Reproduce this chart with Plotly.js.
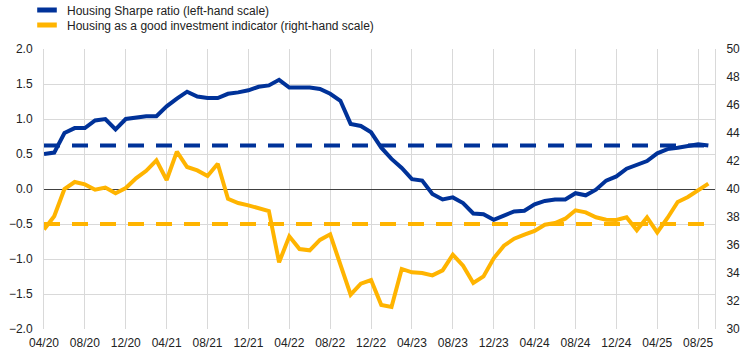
<!DOCTYPE html>
<html>
<head>
<meta charset="utf-8">
<script src="https://cdn.plot.ly/plotly-3.0.1.min.js"></script>
<style>html,body{margin:0;padding:0;background:#fff;}#chart{width:745px;height:357px;}</style>
</head>
<body>
<div id="chart"></div>
<script>
var months = ["04/20","05/20","06/20","07/20","08/20","09/20","10/20","11/20","12/20","01/21","02/21","03/21",
  "04/21","05/21","06/21","07/21","08/21","09/21","10/21","11/21","12/21","01/22","02/22","03/22",
  "04/22","05/22","06/22","07/22","08/22","09/22","10/22","11/22","12/22","01/23","02/23","03/23",
  "04/23","05/23","06/23","07/23","08/23","09/23","10/23","11/23","12/23","01/24","02/24","03/24",
  "04/24","05/24","06/24","07/24","08/24","09/24","10/24","11/24","12/24","01/25","02/25","03/25",
  "04/25","05/25","06/25","07/25","08/25","09/25"];
var tickLabels = ["04/20","08/20","12/20","04/21","08/21","12/21","04/22","08/22","12/22","04/23","08/23","12/23","04/24","08/24","12/24","04/25","08/25"];

var sharpeRatio = [0.50,0.52,0.80,0.87,0.87,0.98,1.00,0.85,1.00,1.02,1.04,1.04,
  1.18,1.29,1.39,1.32,1.30,1.30,1.36,1.38,1.41,1.46,1.48,1.56,
  1.45,1.45,1.45,1.43,1.36,1.26,0.93,0.90,0.81,0.59,0.43,0.30,
  0.14,0.12,-0.07,-0.15,-0.12,-0.20,-0.35,-0.36,-0.44,-0.38,-0.32,-0.31,
  -0.22,-0.17,-0.15,-0.15,-0.06,-0.09,-0.01,0.12,0.18,0.29,0.35,0.40,
  0.51,0.57,0.59,0.62,0.64,0.62];
var investmentIndicator = [37.1,38.05,40.0,40.5,40.33,39.95,40.1,39.7,40.07,40.76,41.3,42.05,
  40.64,42.67,41.57,41.33,40.93,41.8,39.3,39.0,38.83,38.64,38.43,34.76,
  36.62,35.71,35.62,36.36,36.76,34.6,32.45,33.24,33.5,31.71,31.57,34.29,
  34.05,34.0,33.83,34.19,35.31,34.52,33.29,33.76,35.05,35.95,36.45,36.74,
  37.0,37.45,37.57,37.88,38.48,38.33,37.98,37.81,37.79,37.98,37.05,37.98,
  36.9,37.93,39.07,39.43,39.9,40.38];
var sharpeAverage = 0.62;
var indicatorAverage = 37.5;

var names = ["Housing Sharpe ratio (left-hand scale)", "Housing as a good investment indicator (right-hand scale)"];
var BLUE = "#003299", YELLOW = "#ffb400";

var first = months[0], last = months[months.length - 1];
var traces = [
  {x:[first,last], y:[sharpeAverage,sharpeAverage], type:"scatter", mode:"lines", yaxis:"y",
   line:{color:BLUE, width:4, dash:"16px,12px"}, showlegend:false, hoverinfo:"skip"},
  {x:[first,last], y:[indicatorAverage,indicatorAverage], type:"scatter", mode:"lines", yaxis:"y2",
   line:{color:YELLOW, width:4, dash:"16px,12px"}, showlegend:false, hoverinfo:"skip"},
  {x:months, y:sharpeRatio, type:"scatter", mode:"lines", yaxis:"y",
   line:{color:BLUE, width:4}, showlegend:false, name:names[0]},
  {x:months, y:investmentIndicator, type:"scatter", mode:"lines", yaxis:"y2",
   line:{color:YELLOW, width:4}, showlegend:false, name:names[1]},
  {x:[null], y:[null], type:"scatter", mode:"markers", name:names[0], legend:"legend",
   marker:{symbol:"line-ew-open", size:14, line:{width:5, color:BLUE}, color:BLUE}},
  {x:[null], y:[null], type:"scatter", mode:"markers", name:names[1], legend:"legend2",
   marker:{symbol:"line-ew-open", size:14, line:{width:5, color:YELLOW}, color:YELLOW}}
];

var fnt = {family:"Liberation Sans, Arial, sans-serif", size:12, color:"#222"};
var layout = {
  width:745, height:357,
  margin:{l:44, r:30, t:49, b:28, autoexpand:false},
  paper_bgcolor:"#fff", plot_bgcolor:"#fff",
  font:fnt,
  showlegend:true,
  legend:{x:27/745, xref:"container", y:1-10/357, yref:"container", xanchor:"left", yanchor:"middle",
    bgcolor:"rgba(0,0,0,0)", font:fnt},
  legend2:{x:27/745, xref:"container", y:1-25/357, yref:"container", xanchor:"left", yanchor:"middle",
    bgcolor:"rgba(0,0,0,0)", font:fnt},
  xaxis:{type:"category", categoryorder:"array", categoryarray:months, range:[0, 65.65],
    tickmode:"array", tickvals:tickLabels, ticktext:tickLabels,
    showgrid:true, gridcolor:"#d9d9d9", gridwidth:1, ticks:"", zeroline:false, showline:false,
    ticklabelstandoff:5, tickfont:fnt, tickangle:0},
  yaxis:{range:[-2,2], dtick:0.5, tick0:0, tickformat:".1f", showgrid:true, gridcolor:"#d9d9d9",
    zeroline:true, zerolinecolor:"#404040", zerolinewidth:1, showline:true, linecolor:"#d9d9d9", linewidth:1,
    ticks:"", ticklabelstandoff:8, tickfont:fnt, fixedrange:true},
  yaxis2:{range:[30,50], dtick:2, tick0:30, overlaying:"y", side:"right", showgrid:false, zeroline:false,
    showline:true, linecolor:"#d9d9d9", linewidth:1, ticks:"", ticklabelstandoff:8, tickfont:fnt}
};

Plotly.newPlot("chart", traces, layout, {displayModeBar:false, staticPlot:true});
</script>
</body>
</html>
